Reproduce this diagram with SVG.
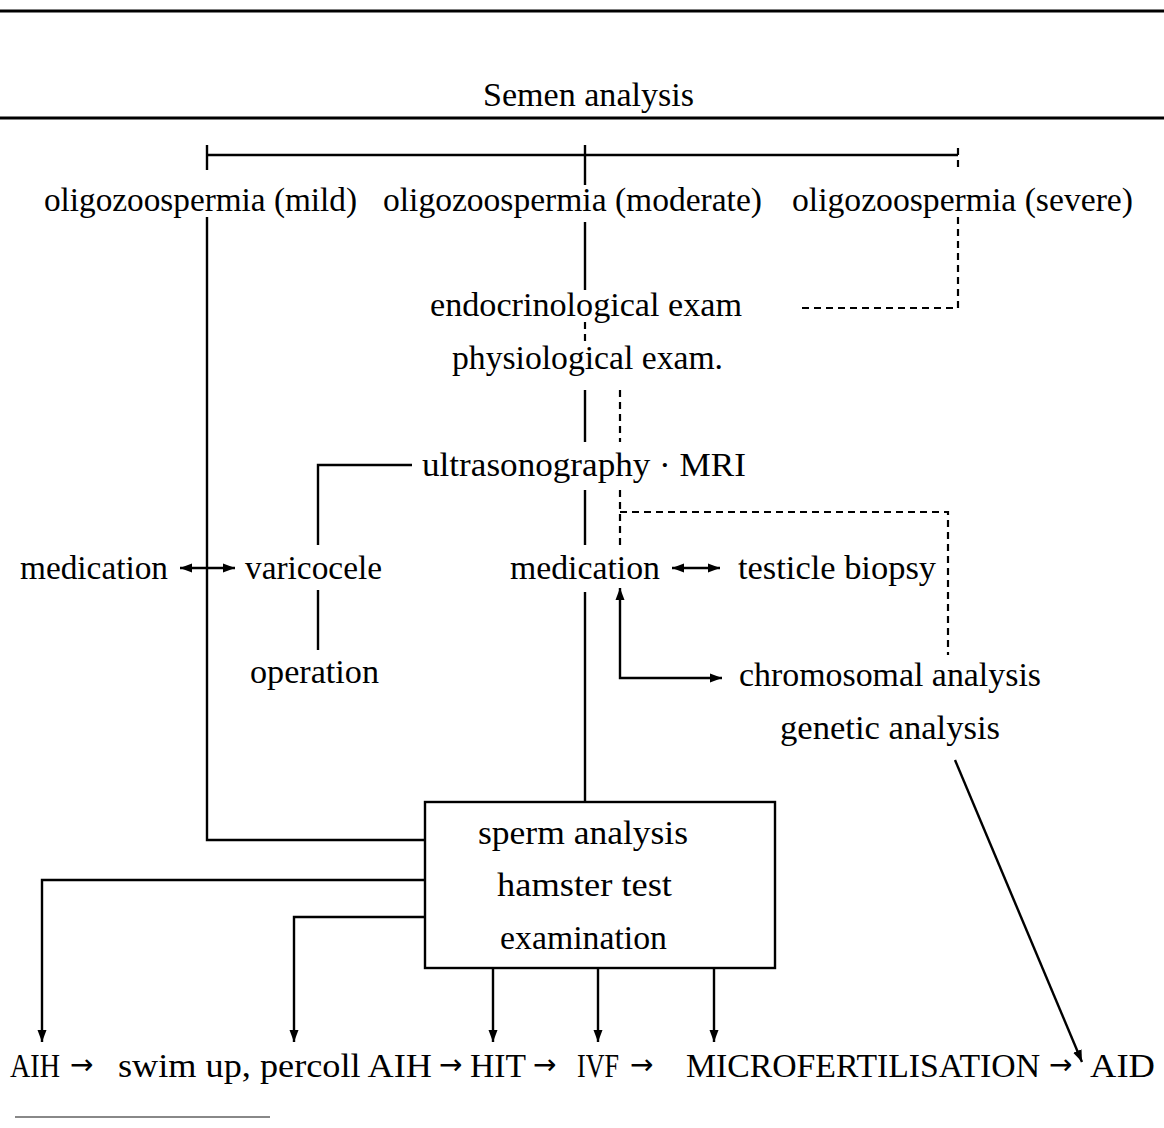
<svg xmlns="http://www.w3.org/2000/svg" width="1164" height="1128" viewBox="0 0 1164 1128">
<style>
text{font-family:"Liberation Serif","DejaVu Serif",serif;font-size:33px;fill:#000}
.big{font-size:34px}
.arr{font-family:"DejaVu Sans",sans-serif;font-size:28px}
.ln{stroke:#000;stroke-width:2.4;fill:none}
.ds{stroke:#000;stroke-width:2.2;fill:none;stroke-dasharray:7 5}
.rule{stroke:#000;stroke-width:3}
</style>
<defs>
<marker id="ah" viewBox="0 0 12 10" refX="12" refY="5" markerWidth="12" markerHeight="10" markerUnits="userSpaceOnUse" orient="auto-start-reverse">
<path d="M0,0.5 L12,5 L0,9.5 Z" fill="#000"/>
</marker>
</defs>
<rect width="1164" height="1128" fill="#fff"/>
<g id="rules">
<line class="rule" x1="0" y1="11" x2="1164" y2="11"/>
<line class="rule" x1="0" y1="118" x2="1164" y2="118"/>
<line x1="15" y1="1117" x2="270" y2="1117" stroke="#888" stroke-width="2"/>
</g>
<g id="connectors">
<line class="ln" x1="207" y1="155" x2="958" y2="155" stroke-width="2.8"/>
<line class="ln" x1="207" y1="145" x2="207" y2="170"/>
<line class="ln" x1="585" y1="145" x2="585" y2="185"/>
<line class="ds" x1="958" y1="148" x2="958" y2="172"/>
<polyline class="ln" points="207,217 207,840 425,840"/>
<line class="ln" x1="585" y1="222" x2="585" y2="290"/>
<line class="ds" x1="585" y1="322" x2="585" y2="342"/>
<line class="ln" x1="585" y1="390" x2="585" y2="442"/>
<line class="ln" x1="585" y1="490" x2="585" y2="545"/>
<line class="ln" x1="585" y1="592" x2="585" y2="802"/>
<line class="ds" x1="620" y1="390" x2="620" y2="442"/>
<line class="ds" x1="620" y1="490" x2="620" y2="545"/>
<polyline class="ds" points="620,512 948,512 948,655"/>
<polyline class="ds" points="958,217 958,308 800,308"/>
<polyline class="ln" points="412,465 318,465 318,545"/>
<line class="ln" x1="318" y1="590" x2="318" y2="650"/>
<line class="ln" x1="180" y1="568" x2="235" y2="568" marker-start="url(#ah)" marker-end="url(#ah)"/>
<line class="ln" x1="672" y1="568" x2="720" y2="568" marker-start="url(#ah)" marker-end="url(#ah)"/>
<polyline class="ln" points="620,588 620,678 722,678" marker-start="url(#ah)" marker-end="url(#ah)"/>
<polyline class="ln" points="425,880 42,880 42,1042" marker-end="url(#ah)"/>
<polyline class="ln" points="425,917 294,917 294,1042" marker-end="url(#ah)"/>
<line class="ln" x1="493" y1="968" x2="493" y2="1042" marker-end="url(#ah)"/>
<line class="ln" x1="598" y1="968" x2="598" y2="1042" marker-end="url(#ah)"/>
<line class="ln" x1="714" y1="968" x2="714" y2="1042" marker-end="url(#ah)"/>
<line class="ln" x1="955" y1="760" x2="1082" y2="1062" marker-end="url(#ah)"/>
</g>
<g id="n-semen"><text x="483" y="106" textLength="211" lengthAdjust="spacingAndGlyphs">Semen analysis</text></g>
<g id="n-mild"><text x="44" y="211" textLength="313" lengthAdjust="spacingAndGlyphs">oligozoospermia (mild)</text></g>
<g id="n-moderate"><text x="383" y="211" textLength="379" lengthAdjust="spacingAndGlyphs">oligozoospermia (moderate)</text></g>
<g id="n-severe"><text x="792" y="211" textLength="341" lengthAdjust="spacingAndGlyphs">oligozoospermia (severe)</text></g>
<g id="n-endo"><text x="430" y="316" textLength="312" lengthAdjust="spacingAndGlyphs">endocrinological exam</text></g>
<g id="n-physio"><text x="452" y="369" textLength="271" lengthAdjust="spacingAndGlyphs">physiological exam.</text></g>
<g id="n-ultra"><text x="422" y="476" textLength="324" lengthAdjust="spacingAndGlyphs">ultrasonography · MRI</text></g>
<g id="n-med-left"><text x="20" y="579" textLength="148" lengthAdjust="spacingAndGlyphs">medication</text></g>
<g id="n-varicocele"><text x="245" y="579" textLength="137" lengthAdjust="spacingAndGlyphs">varicocele</text></g>
<g id="n-med-mid"><text x="510" y="579" textLength="150" lengthAdjust="spacingAndGlyphs">medication</text></g>
<g id="n-biopsy"><text x="738" y="579" textLength="198" lengthAdjust="spacingAndGlyphs">testicle biopsy</text></g>
<g id="n-operation"><text x="250" y="683" textLength="129" lengthAdjust="spacingAndGlyphs">operation</text></g>
<g id="n-chromo"><text x="739" y="686" textLength="302" lengthAdjust="spacingAndGlyphs">chromosomal analysis</text><text x="780" y="739" textLength="220" lengthAdjust="spacingAndGlyphs">genetic analysis</text></g>
<g id="n-box">
<rect x="425" y="802" width="350" height="166" fill="none" stroke="#000" stroke-width="2.4"/>
<text x="478" y="844" textLength="210" lengthAdjust="spacingAndGlyphs">sperm analysis</text>
<text x="497" y="896" textLength="175" lengthAdjust="spacingAndGlyphs">hamster test</text>
<text x="500" y="949" textLength="167" lengthAdjust="spacingAndGlyphs">examination</text>
</g>
<g id="n-bottom">
<text class="big" x="10" y="1077" textLength="50" lengthAdjust="spacingAndGlyphs">AIH</text>
<text class="arr" x="70" y="1074">→</text>
<text class="big" x="118" y="1077" textLength="314" lengthAdjust="spacingAndGlyphs">swim up, percoll AIH</text>
<text class="arr" x="439" y="1074">→</text>
<text class="big" x="470" y="1077" textLength="56" lengthAdjust="spacingAndGlyphs">HIT</text>
<text class="arr" x="533" y="1074">→</text>
<text class="big" x="577" y="1077" textLength="42" lengthAdjust="spacingAndGlyphs">IVF</text>
<text class="arr" x="630" y="1074">→</text>
<text class="big" x="686" y="1077" textLength="354" lengthAdjust="spacingAndGlyphs">MICROFERTILISATION</text>
<text class="arr" x="1049" y="1074">→</text>
<text class="big" x="1090" y="1077" textLength="65" lengthAdjust="spacingAndGlyphs">AID</text>
</g>
</svg>
